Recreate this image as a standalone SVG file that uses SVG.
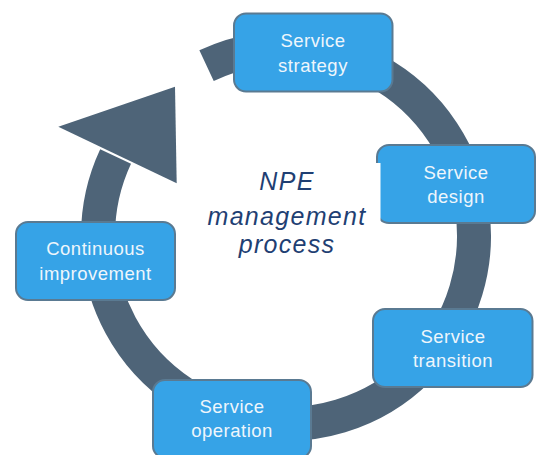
<svg xmlns="http://www.w3.org/2000/svg" width="540" height="455" viewBox="0 0 540 455">
  <style>
    .ring { fill: none; stroke: #4e6478; stroke-width: 34; stroke-linecap: butt; }
    .head { fill: #4e6478; }
    .box { fill: #36a3e7; stroke: #5a7a92; stroke-width: 2; }
    .lbl { font-family: "Liberation Sans", Arial, sans-serif; font-size: 18.5px; letter-spacing: 0.5px; fill: #eef6fc; text-anchor: middle; }
    .title { font-family: "Liberation Sans", Arial, sans-serif; font-style: italic; font-size: 25px; letter-spacing: 1.3px; fill: #1f3f73; text-anchor: middle; }
  </style>
  <rect width="540" height="455" fill="#ffffff"/>
  <g id="connectors">
    <path class="ring" d="M 206.55 65.6 A 188 188 0 1 1 115.6 156.55"/>
    <polygon class="head" points="58.3,126.7 175,86.7 176.7,183.3"/>
  </g>
  <g id="strategy">
    <rect class="box" x="234" y="13.5" width="158.5" height="78" rx="12"/>
    <text class="lbl" x="313" y="47">Service</text>
    <text class="lbl" x="313" y="71.5">strategy</text>
  </g>
  <g id="design">
    <rect class="box" x="377" y="145" width="158" height="78" rx="12"/>
    <text class="lbl" x="456" y="178.5">Service</text>
    <text class="lbl" x="456" y="202.5">design</text>
  </g>
  <g id="transition">
    <rect class="box" x="373" y="309" width="159.5" height="78" rx="12"/>
    <text class="lbl" x="453" y="342.5">Service</text>
    <text class="lbl" x="453" y="366.5">transition</text>
  </g>
  <g id="operation">
    <rect class="box" x="153" y="380" width="158" height="78" rx="12"/>
    <text class="lbl" x="232" y="413">Service</text>
    <text class="lbl" x="232" y="437">operation</text>
  </g>
  <g id="improvement">
    <rect class="box" x="16" y="222" width="159" height="78" rx="12"/>
    <text class="lbl" x="95.5" y="255">Continuous</text>
    <text class="lbl" x="95.5" y="279.5">improvement</text>
  </g>
  <g id="center">
    <rect x="340" y="163" width="40.5" height="65" fill="#ffffff"/>
    <text class="title" x="287" y="190">NPE</text>
    <text class="title" x="287" y="225">management</text>
    <text class="title" x="287" y="253">process</text>
  </g>
</svg>
